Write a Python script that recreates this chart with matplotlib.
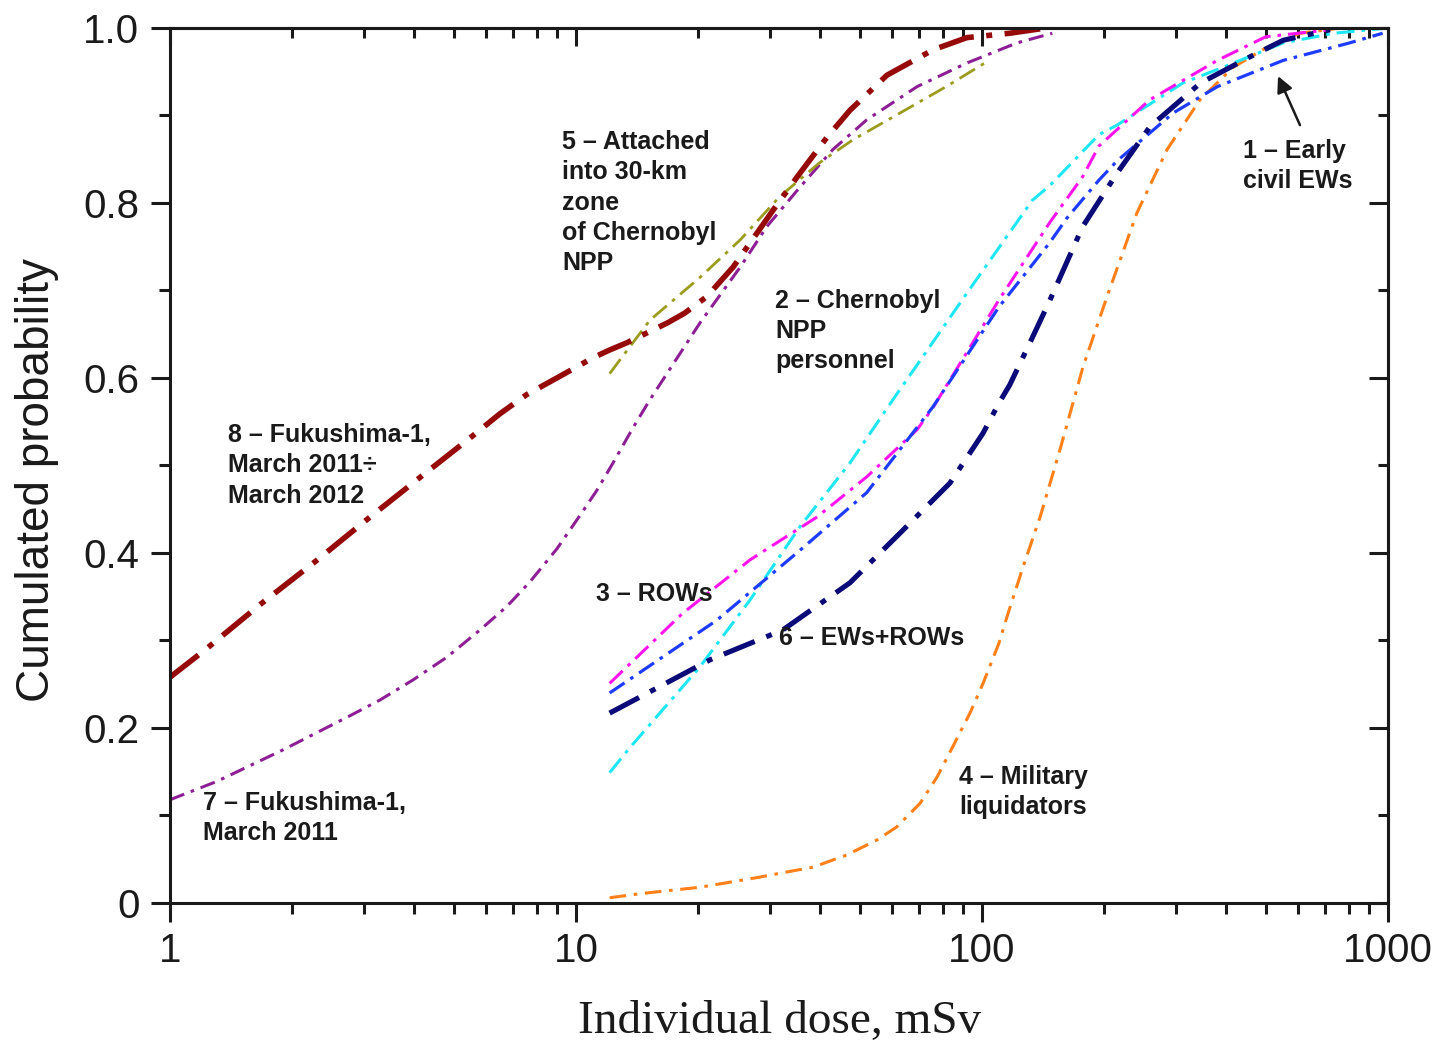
import matplotlib
matplotlib.use("Agg")
import matplotlib.pyplot as plt
from matplotlib.ticker import FixedLocator, NullFormatter, LogLocator

plt.rcParams['font.family'] = ['Liberation Sans', 'DejaVu Sans']
plt.rcParams['lines.scale_dashes'] = False

# ---------------- data ----------------
# 1 - Early civil EWs (blue)
x1 = [12.1, 22.2, 35.6, 52.0, 75.7, 110, 147, 162, 194, 215, 296, 380, 552, 805, 970]
y1 = [0.240, 0.323, 0.403, 0.469, 0.567, 0.681, 0.755, 0.783, 0.826, 0.848, 0.903, 0.933, 0.963, 0.983, 0.994]
# 2 - Chernobyl NPP personnel (cyan)
x2 = [12.1, 13.6, 20.2, 26.8, 35.6, 47.3, 60.3, 91.8, 133, 147, 194, 215, 312, 417, 552, 735, 1000]
y2 = [0.149, 0.178, 0.270, 0.346, 0.430, 0.503, 0.575, 0.697, 0.803, 0.820, 0.878, 0.889, 0.937, 0.960, 0.983, 0.994, 1.0]
# 3 - ROWs (magenta)
x3 = [12.1, 18.3, 26.8, 39.2, 52.0, 69.2, 75.7, 110, 147, 177, 194, 259, 380, 500, 720]
y3 = [0.251, 0.331, 0.392, 0.441, 0.487, 0.541, 0.566, 0.689, 0.778, 0.830, 0.865, 0.918, 0.963, 0.990, 0.998]
# 4 - Military liquidators (orange)
x4 = [12.1, 14.6, 20.2, 27.9, 31.8, 38.4, 46.5, 55.1, 61.7, 70.4, 77.5, 84.8, 93.4, 100.6, 110.1, 115.2,
      126.2, 139, 155.6, 177.4, 203.2, 240.9, 285.6, 344.3, 415.2, 503.5, 607, 762]
y4 = [0.006, 0.011, 0.018, 0.029, 0.034, 0.041, 0.055, 0.072, 0.087, 0.114, 0.144, 0.179, 0.217, 0.251,
      0.297, 0.327, 0.384, 0.441, 0.518, 0.613, 0.693, 0.789, 0.861, 0.918, 0.955, 0.978, 0.994, 1.0]
# 5 - Attached into 30-km zone (olive)
x5 = [12.1, 15.2, 20.2, 25.4, 31.7, 39.8, 48.0, 62.9, 81.6, 101.6]
y5 = [0.605, 0.666, 0.715, 0.758, 0.807, 0.846, 0.872, 0.903, 0.933, 0.960]
# 6 - EWs+ROWs (navy)
x6 = [12.1, 21.4, 32.3, 47.3, 62.9, 83.4, 100.6, 110, 117, 133, 147, 162, 177, 215, 259, 345, 457, 552, 720]
y6 = [0.217, 0.278, 0.312, 0.366, 0.423, 0.480, 0.537, 0.571, 0.592, 0.646, 0.689, 0.733, 0.773, 0.834,
      0.887, 0.937, 0.967, 0.986, 0.998]
# 7 - Fukushima-1, March 2011 (purple)
x7 = [1.0, 1.305, 1.898, 2.775, 3.29, 3.97, 4.81, 5.80, 6.76, 7.70, 8.98, 10.23, 11.27, 12.34, 13.81, 15.2,
      20.2, 25.4, 29.5, 35.6, 42.9, 52.0, 69.2, 91.8, 122, 149]
y7 = [0.118, 0.139, 0.175, 0.214, 0.232, 0.255, 0.281, 0.312, 0.339, 0.367, 0.405, 0.443, 0.472, 0.503,
      0.543, 0.575, 0.663, 0.727, 0.773, 0.818, 0.861, 0.895, 0.933, 0.960, 0.983, 0.994]
# 8 - Fukushima-1, March 2011 - March 2012 (dark red)
x8 = [1.0, 1.233, 1.666, 2.276, 3.07, 4.17, 5.57, 6.49, 7.56, 9.13, 11.0, 12.1, 13.3, 16.8, 18.5, 21.0,
      24.4, 30.6, 35.6, 41.5, 47.3, 58.3, 75.7, 91.8, 117, 139]
y8 = [0.258, 0.291, 0.341, 0.390, 0.439, 0.488, 0.534, 0.559, 0.581, 0.602, 0.623, 0.632, 0.640, 0.663,
      0.674, 0.693, 0.727, 0.792, 0.834, 0.875, 0.906, 0.946, 0.975, 0.989, 0.994, 0.999]

x_ticks = [1, 10, 100, 1000]
x_ticklabels = ["1", "10", "100", "1000"]
y_ticks = [0, 0.2, 0.4, 0.6, 0.8, 1.0]
y_ticklabels = ["0", "0.2", "0.4", "0.6", "0.8", "1.0"]
y_minor = [0.1, 0.3, 0.5, 0.7, 0.9]

# ---------------- figure ----------------
fig = plt.figure(figsize=(14.35, 10.45), dpi=100)
ax = fig.add_axes([0.11847, 0.13589, 0.84878, 0.83732])

thin = (13, 5, 2.6, 5)
thick = (26, 9, 4.3, 9)

ax.plot(x7, y7, color='#8E1E96', lw=2.2, dashes=(11, 5, 2.6, 5))
ax.plot(x5, y5, color='#9B9B1E', lw=2.0, dashes=thin)
ax.plot(x4, y4, color='#FF8019', lw=2.2, dashes=(12, 5.5, 2.6, 5.5))
ax.plot(x2, y2, color='#1EE6F5', lw=2.2, dashes=thin)
ax.plot(x3, y3, color='#FF14F0', lw=2.2, dashes=thin)
ax.plot(x1, y1, color='#1E3CFF', lw=2.3, dashes=thin)
ax.plot(x6, y6, color='#0A0A78', lw=3.7, dashes=(24, 9, 4.3, 9))
ax.plot(x8, y8, color='#960A0A', lw=4.0, dashes=thick)

ax.set_xscale('log')
ax.set_xlim(1, 1000)
ax.set_ylim(0, 1)

ax.set_xticks(x_ticks)
ax.set_xticklabels(x_ticklabels)
ax.xaxis.set_minor_locator(LogLocator(base=10, subs=[2, 3, 4, 5, 6, 7, 8, 9]))
ax.xaxis.set_minor_formatter(NullFormatter())
ax.set_yticks(y_ticks)
ax.set_yticklabels(y_ticklabels)
ax.yaxis.set_minor_locator(FixedLocator(y_minor))

tick_color = '#1a1a1a'
ax.tick_params(axis='both', which='major', direction='out', length=14, width=2.2,
               labelsize=29, colors=tick_color, top=False, right=False)
ax.tick_params(axis='both', which='minor', direction='out', length=8, width=2.2,
               top=False, right=False, colors=tick_color)
ax.tick_params(axis='x', which='major', pad=7)
ax.tick_params(axis='y', which='major', pad=8)
for s in ax.spines.values():
    s.set_linewidth(2.2)
    s.set_color(tick_color)

# mirrored ticks on top/right pointing inward
secx = ax.secondary_xaxis('top')
secx.set_xticks(x_ticks)
secx.xaxis.set_minor_locator(LogLocator(base=10, subs=[2, 3, 4, 5, 6, 7, 8, 9]))
secx.tick_params(axis='x', which='major', direction='in', length=13, width=2.2, labeltop=False, colors=tick_color)
secx.tick_params(axis='x', which='minor', direction='in', length=7, width=2.2, labeltop=False, colors=tick_color)
secx.spines['top'].set_linewidth(2.2)

secy = ax.secondary_yaxis('right')
secy.set_yticks(y_ticks)
secy.yaxis.set_minor_locator(FixedLocator(y_minor))
secy.tick_params(axis='y', which='major', direction='in', length=14, width=2.2, labelright=False, colors=tick_color)
secy.tick_params(axis='y', which='minor', direction='in', length=7, width=2.2, labelright=False, colors=tick_color)
secy.spines['right'].set_linewidth(2.2)

# axis titles
fig.text(37 / 1435, 1 - 480 / 1045, "Cumulated probability", rotation=90,
         ha='center', va='center', fontsize=33, color=tick_color)
fig.text(780 / 1435, 1 - 1033 / 1045, "Individual dose, mSv", ha='center', va='baseline',
         fontsize=34, color=tick_color, family=['Liberation Serif', 'DejaVu Serif'])

# annotations (left edge, baseline of the last line)
ann_kw = dict(fontsize=18, fontweight='bold', color=tick_color, ha='left', va='baseline', linespacing=1.34)
ax.text(9.24, 0.7229, "5 – Attached\ninto 30-km\nzone\nof Chernobyl\nNPP", **ann_kw)
ax.text(30.9, 0.6109, "2 – Chernobyl\nNPP\npersonnel", **ann_kw)
ax.text(439, 0.8171, "1 – Early\ncivil EWs", **ann_kw)
ax.text(1.39, 0.4577, "8 – Fukushima-1,\nMarch 2011÷\nMarch 2012", **ann_kw)
ax.text(11.2, 0.3446, "3 – ROWs", **ann_kw)
ax.text(31.6, 0.2954, "6 – EWs+ROWs", **ann_kw)
ax.text(1.206, 0.0720, "7 – Fukushima-1,\nMarch 2011", **ann_kw)
ax.text(87.8, 0.1017, "4 – Military\nliquidators", **ann_kw)

ax.annotate('', xy=(536, 0.945), xytext=(607, 0.889),
            arrowprops=dict(arrowstyle='-|>', lw=1.8, color=tick_color, mutation_scale=24,
                            shrinkA=0, shrinkB=0))

fig.savefig("out.png", dpi=100)
